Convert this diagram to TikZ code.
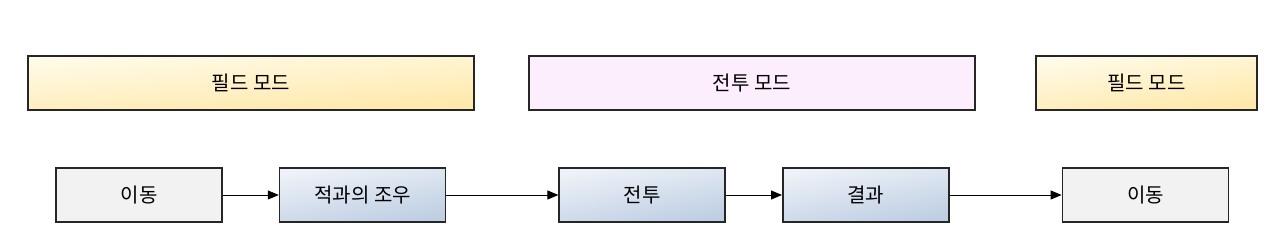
\documentclass[tikz,border=0pt]{standalone}
\usepackage{fontspec}
\setmainfont{Noto Sans CJK KR}
\usepackage{tikz}
\usetikzlibrary{positioning, arrows.meta}
\definecolor{field-light}{HTML}{FFFBEA}
\definecolor{field-dark}{HTML}{FFE8A8}
\definecolor{battle-pink}{HTML}{FCEEFC}
\definecolor{move-gray}{HTML}{F2F2F2}
\definecolor{step-light}{HTML}{EEF2F8}
\definecolor{step-dark}{HTML}{BECEE3}

\begin{document}
\begin{tikzpicture}[x=1pt, y=1pt,
    box/.style={draw=black!85, line width=1.6pt, minimum height=54pt, inner sep=0pt, font=\fontsize{20}{22}\selectfont},
    fieldmode/.style={box, minimum width=446pt, top color=field-light, bottom color=field-dark, shading angle=4},
    battlemode/.style={box, minimum width=446pt, fill=battle-pink},
    movebox/.style={box, minimum width=166pt, fill=move-gray},
    stepbox/.style={box, minimum width=166pt, top color=step-light, bottom color=step-dark, shading angle=10},
    link/.style={-{Triangle[length=11pt, width=9pt]}, line width=1pt}
]
    \useasboundingbox (0,0) rectangle (1287,-251);

    % modes
    \node (field1) [fieldmode] at (251,-83) {필드 모드};
    \node (battle) [battlemode] at (752,-83) {전투 모드};
    \node (field2) [fieldmode, minimum width=221pt, shading angle=8] at (1146.5,-83) {필드 모드};

    % flow
    \node (move1) [movebox] at (139,-195) {이동};
    \node (meet) [stepbox, right=56pt of move1] {적과의 조우};
    \node (fight) [stepbox, right=112pt of meet] {전투};
    \node (result) [stepbox, right=56pt of fight] {결과};
    \node (move2) [movebox, right=112pt of result] {이동};

    \draw [link] (move1) -- (meet);
    \draw [link] (meet) -- (fight);
    \draw [link] (fight) -- (result);
    \draw [link] (result) -- (move2);
\end{tikzpicture}
\end{document}
